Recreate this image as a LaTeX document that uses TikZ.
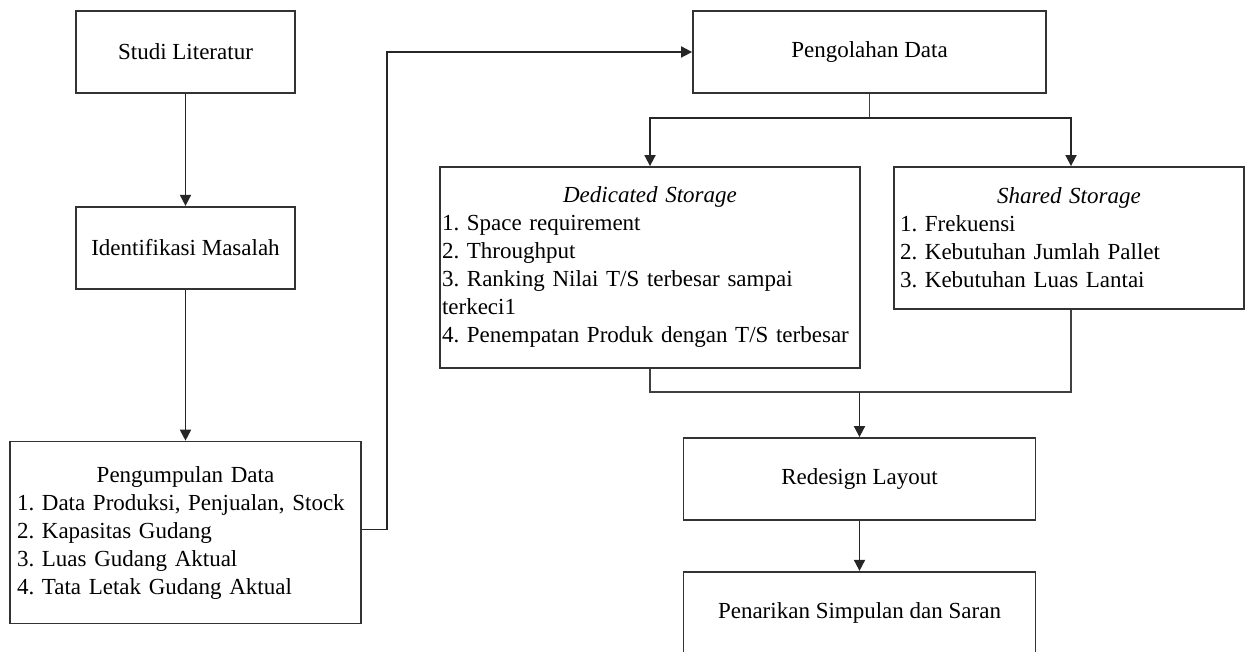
\documentclass[tikz,border=0pt]{standalone}
\usepackage{fontspec}
\setmainfont{Liberation Serif}
\usepackage{tikz}
\usetikzlibrary{positioning,arrows.meta}

\newcommand{\boxtitle}[1]{\makebox[\linewidth]{#1}}

\begin{document}
\frenchspacing
\begin{tikzpicture}[
  x=1pt, y=1pt,
  box/.style={draw=black!80, line width=1.8pt, inner sep=0pt, align=center,
    font=\fontsize{23}{28}\selectfont},
  smallbox/.style={box, minimum width=219pt, minimum height=82pt},
  widebox/.style={box, minimum width=352pt, minimum height=82pt},
  listbox/.style={box, align=left, inner ysep=0pt},
  arr/.style={-{Triangle[length=11pt,width=11pt]}, line width=1.8pt, draw=black!85},
  conn/.style={line width=1.8pt, draw=black!75},
]
\useasboundingbox (0,0) rectangle (1245,652);

% left column
\node[smallbox] (studi) at (185.5,600) {Studi Literatur};
\node[smallbox, below=112pt of studi] (ident) {Identifikasi Masalah};
\node[listbox, below=151pt of ident, text width=337pt, inner xsep=7pt, minimum height=182pt] (kumpul)
  {\boxtitle{Pengumpulan Data}\\
   1. Data Produksi, Penjualan, Stock\\
   2. Kapasitas Gudang\\
   3. Luas Gudang Aktual\\
   4. Tata Letak Gudang Aktual};

% right column
\node[widebox, minimum width=353pt] (olah) at (869.5,600) {Pengolahan Data};
\node[listbox, text width=416pt, inner xsep=2pt, minimum height=201pt] (dedic) at (650,384.5)
  {\boxtitle{\textit{Dedicated Storage}}\\
   1. Space requirement\\
   2. Throughput\\
   3. Ranking Nilai T/S terbesar sampai\\
   terkeci1\\
   4. Penempatan Produk dengan T/S terbesar};
\node[listbox, text width=338pt, inner xsep=6pt, minimum height=142pt] (shared) at (1069,414)
  {\boxtitle{\textit{Shared Storage}}\\
   1. Frekuensi\\
   2. Kebutuhan Jumlah Pallet\\
   3. Kebutuhan Luas Lantai};
\node[widebox] (redesign) at (859.5,173) {Redesign Layout};
\node[widebox, below=50pt of redesign] (simpul) {Penarikan Simpulan dan Saran};

% connectors
\draw[arr] (studi) -- (ident);
\draw[arr] (ident) -- (kumpul);
\draw[arr] ([yshift=3pt]kumpul.east) -- ++(25,0) |- (olah.west);

\coordinate[below=24pt of olah.south] (split);
\draw[conn] (olah.south) -- (split);
\draw[arr] (split) -| (dedic.north);
\draw[arr] (split) -| ([xshift=2pt]shared.north);

\coordinate[below=23pt of dedic.south] (merge);
\draw[conn] (dedic.south) -- (merge) -| ([xshift=2pt]shared.south);
\draw[arr] (redesign.north |- merge) -- (redesign.north);
\draw[arr] (redesign) -- (simpul);
\end{tikzpicture}
\end{document}
